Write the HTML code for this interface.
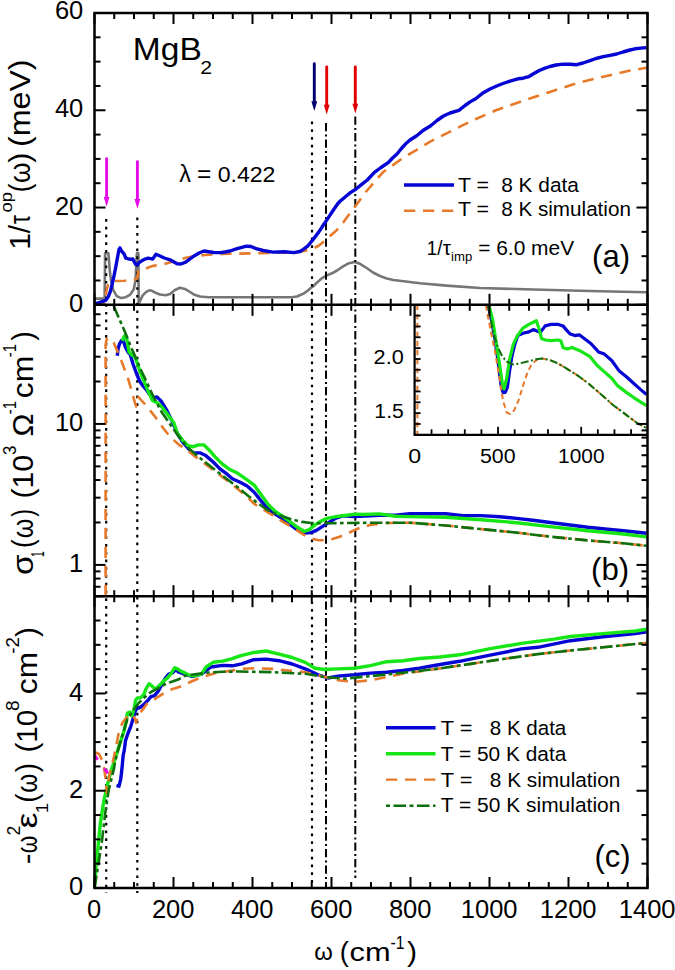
<!DOCTYPE html><html><head><meta charset="utf-8"><style>html,body{margin:0;padding:0;background:#fff;width:675px;height:970px;overflow:hidden}svg{display:block}text{font-family:"Liberation Sans",sans-serif;fill:#000}</style></head><body>
<svg width="675" height="970" viewBox="0 0 675 970">
<rect x="0" y="0" width="675" height="970" fill="#fff"/>
<polyline points="94.5,298.6 104.6,298.6 105.1,253.2 108.4,253.2 109.8,270.6 111.1,281.2 113.3,290.1 116.9,296.3 121.3,298.1 125.8,297.2 130.2,294.6 133.8,289.2 135.6,279.4 136.4,261.7 136.9,253.2 138.4,253.2 138.7,303.4 140.0,300.8 142.7,295.4 146.2,291.9 149.4,290.3 152.0,290.8 156.0,293.0 160.0,294.5 165.9,295.2 170.0,294.0 175.0,290.0 180.0,287.8 185.0,288.9 190.0,292.0 194.5,294.8 200.0,296.5 208.7,297.2 291.6,297.2 297.0,296.5 303.5,293.6 308.0,290.5 310.7,288.0 313.0,286.5 316.0,283.5 321.3,278.7 326.0,275.8 332.0,273.3 337.0,270.5 342.7,266.7 348.0,263.6 354.7,262.1 360.0,263.8 366.7,268.0 373.0,272.5 380.0,276.0 386.0,278.3 393.3,280.0 403.7,281.3 420.0,283.2 446.7,285.6 480.0,288.0 533.3,289.5 580.0,290.8 611.0,291.5 647.0,292.3" fill="none" stroke="#767676" stroke-width="2.6" stroke-linejoin="round" stroke-linecap="butt" />
<line x1="106.20" y1="219.00" x2="106.20" y2="893.00" stroke="#000" stroke-width="2.2" stroke-linecap="butt" stroke-dasharray="2.7,5.04"/>
<line x1="137.30" y1="217.50" x2="137.30" y2="893.00" stroke="#000" stroke-width="2.2" stroke-linecap="butt" stroke-dasharray="2.7,5.04"/>
<line x1="312.00" y1="121.50" x2="312.00" y2="888.00" stroke="#000" stroke-width="2.2" stroke-linecap="butt" stroke-dasharray="2.7,5.04"/>
<line x1="326.00" y1="123.00" x2="326.00" y2="887.00" stroke="#000" stroke-width="2.0" stroke-linecap="butt" stroke-dasharray="8.2,3.2,2,3.1"/>
<line x1="355.30" y1="116.50" x2="355.30" y2="878.00" stroke="#000" stroke-width="2.0" stroke-linecap="butt" stroke-dasharray="8.2,3.2,2,3.1"/>
<polyline points="94.5,304.5 104.0,304.5 105.3,297.5 106.5,290.0 108.0,285.0 110.5,282.0 113.5,281.0 125.0,280.8 132.3,279.6 136.3,279.0 137.6,277.0 138.3,271.0 140.5,270.3 144.4,269.2 152.0,266.1 164.3,263.9 175.0,261.0 185.0,258.0 194.5,256.0 205.0,255.0 220.5,254.0 256.0,253.3 291.6,252.5 304.5,250.9 314.0,248.1 319.0,245.5 324.6,241.0 330.0,236.0 335.9,231.0 343.6,222.1 350.7,212.0 357.2,203.7 364.9,193.0 372.6,184.1 382.9,172.3 402.6,158.2 416.7,149.8 430.7,141.3 447.6,132.9 464.5,124.4 475.3,119.3 496.7,110.0 523.3,100.7 550.0,91.9 576.7,83.3 603.3,76.7 630.0,70.5 646.5,67.8" fill="none" stroke="#e67a2a" stroke-width="2.6" stroke-linejoin="round" stroke-linecap="butt" stroke-dasharray="11.3,7.7" />
<polyline points="94.5,304.0 99.1,302.6 103.6,301.2 106.2,299.9 108.4,296.3 110.2,291.9 112.0,284.8 113.8,276.8 115.6,267.9 116.9,260.8 118.2,253.7 119.1,249.2 120.0,247.9 121.3,250.6 123.1,252.8 124.4,254.6 125.8,258.1 127.6,258.6 129.3,259.0 131.1,259.4 132.9,259.0 134.2,261.7 135.6,264.3 137.3,264.8 139.1,262.6 141.8,260.8 145.3,259.0 148.0,258.1 150.7,258.6 152.7,259.0 156.0,254.3 160.0,256.0 164.3,258.0 170.9,260.2 177.5,263.9 181.0,264.0 185.7,262.2 190.0,258.9 194.5,255.7 199.0,253.0 204.0,251.0 208.7,251.7 214.0,252.5 220.5,252.6 225.0,252.0 230.0,251.0 237.1,248.6 246.6,246.2 251.0,246.5 256.1,248.6 263.2,250.5 272.7,252.1 284.5,251.7 294.0,252.6 300.0,251.5 303.3,249.3 308.0,245.8 312.8,239.9 318.7,232.1 323.4,225.0 328.2,217.9 332.9,210.8 337.7,203.7 340.0,201.3 344.8,197.2 350.7,192.4 355.4,189.5 361.4,184.7 367.3,180.0 374.4,172.3 381.0,167.5 388.5,162.4 392.0,158.5 397.0,154.0 401.0,149.0 405.4,144.1 410.0,140.0 416.7,135.7 423.0,130.5 430.7,125.8 437.0,120.5 443.4,116.0 450.0,113.0 458.9,110.4 465.0,105.5 470.1,101.9 476.0,98.5 483.3,92.7 490.0,89.0 496.7,86.0 503.0,83.5 510.0,81.2 518.0,78.8 523.0,78.2 528.7,76.7 533.0,74.0 539.3,70.5 545.0,68.2 550.0,66.5 556.0,65.0 563.3,64.1 570.0,64.3 576.7,64.7 583.0,63.0 590.0,60.7 596.0,58.5 603.3,56.7 610.0,55.3 616.7,54.0 623.0,52.0 630.0,50.0 635.0,48.8 640.7,48.1 646.5,47.6" fill="none" stroke="#0505d4" stroke-width="3.4" stroke-linejoin="round" stroke-linecap="butt" />
<polyline points="117.3,355.7 118.0,349.0 119.6,343.8 121.5,340.5 123.2,340.3 125.5,347.4 128.0,352.0 130.3,354.5 133.0,364.0 137.4,375.8 140.0,381.8 143.0,386.0 147.1,390.7 150.0,395.0 152.4,397.8 156.9,396.9 161.3,401.3 166.7,410.2 172.0,420.9 177.3,433.3 182.7,442.2 189.8,450.2 193.3,452.9 200.4,452.9 205.8,455.6 212.9,461.8 220.0,468.9 227.1,474.2 232.4,478.7 239.6,482.0 247.1,486.0 254.2,492.2 261.3,501.1 268.4,509.1 275.6,514.4 282.7,518.9 289.8,524.2 296.9,529.6 304.0,533.1 311.1,532.6 316.4,530.4 321.8,526.9 328.9,522.4 336.0,518.0 343.1,515.9 353.8,516.6 360.0,516.3 379.3,515.2 395.6,515.2 410.0,513.8 445.6,513.8 463.3,515.6 481.1,515.6 500.0,516.8 516.7,518.4 535.0,520.5 552.2,522.7 570.0,525.0 587.8,527.3 605.0,529.0 623.3,530.8 635.0,532.0 646.5,533.3" fill="none" stroke="#0505d4" stroke-width="3.4" stroke-linejoin="round" stroke-linecap="butt" />
<polyline points="122.5,341.0 124.0,336.5 125.5,335.5 127.0,340.0 129.1,352.1 132.0,355.0 135.0,356.9 137.5,364.0 139.8,371.1 143.6,380.0 147.1,388.9 152.4,400.4 157.8,403.1 163.1,408.4 168.4,415.6 173.8,422.7 177.3,433.3 182.7,440.4 188.0,445.8 193.3,446.7 198.7,444.9 204.0,444.9 209.3,450.2 214.7,456.4 221.8,463.6 228.9,468.9 237.8,473.3 247.1,479.8 254.2,485.1 261.3,494.9 268.4,504.7 275.6,511.8 282.7,516.2 289.8,521.6 296.9,526.9 304.0,531.3 309.3,529.6 314.7,525.1 320.0,521.6 327.1,518.4 336.0,516.6 346.7,515.3 355.6,514.1 363.0,514.5 379.3,513.9 395.6,516.2 410.0,516.6 445.6,517.3 481.1,519.8 516.7,522.7 552.2,526.9 587.8,530.8 623.3,534.0 646.5,536.9" fill="none" stroke="#16e616" stroke-width="3.4" stroke-linejoin="round" stroke-linecap="butt" />
<polyline points="105.6,596.0 105.6,345.0 106.5,339.5 108.5,337.9 113.7,342.7 120.8,359.2 127.9,378.2 132.0,392.0 135.0,403.0 136.3,406.5 137.5,401.0 138.6,397.2 142.0,401.0 147.1,406.7 154.2,415.6 163.1,428.0 170.2,436.9 179.1,444.9 186.2,449.3 195.1,456.4 205.8,464.4 216.4,472.4 227.1,480.4 237.8,489.0 247.1,497.0 254.2,503.8 261.3,508.2 268.4,512.7 275.6,517.1 282.7,521.6 289.8,526.0 296.9,530.4 304.0,534.9 311.1,538.4 318.2,540.2 325.3,540.2 332.4,539.0 339.6,536.7 346.7,534.0 353.8,530.4 360.0,527.8 370.0,525.0 379.3,523.7 395.6,522.7 410.0,522.7 445.6,525.5 481.1,529.1 516.7,532.6 552.2,536.9 587.8,540.4 623.3,543.3 646.5,545.8" fill="none" stroke="#e67a2a" stroke-width="2.6" stroke-linejoin="round" stroke-linecap="butt" stroke-dasharray="11.3,7.7" />
<polyline points="113.7,306.0 118.0,316.0 121.5,324.0 125.5,333.2 131.0,347.0 137.4,361.6 140.0,368.0 145.3,379.0 149.2,387.7 154.2,398.0 161.3,411.4 170.2,424.4 179.1,436.9 188.0,447.6 196.9,455.5 207.6,464.0 218.2,472.4 228.9,480.5 240.0,489.0 249.0,496.5 257.5,503.0 266.7,509.5 275.6,513.6 284.4,517.1 293.3,519.8 302.2,521.9 311.1,523.0 320.0,523.3 328.9,523.3 346.7,523.0 379.3,522.7 410.0,522.7 445.6,525.5 481.1,529.1 516.7,532.6 552.2,536.9 587.8,540.4 623.3,543.3 646.5,545.8" fill="none" stroke="#0c700c" stroke-width="2.6" stroke-linejoin="round" stroke-linecap="butt" stroke-dasharray="12.5,3.4,3.6,3.4" />
<rect x="414.6" y="304.8" width="232.9" height="130.0" fill="#fff"/>
<line x1="417.40" y1="304.80" x2="417.40" y2="434.80" stroke="#e67a2a" stroke-width="2.0" stroke-linecap="butt" stroke-dasharray="5.5,3.5"/>
<polyline points="488.1,305.2 491.9,322.2 494.8,338.5 497.8,359.3 500.0,377.0 501.5,388.0 503.2,392.6 505.2,392.4 507.4,387.4 509.6,371.1 511.9,356.3 514.8,344.4 517.8,335.6 523.0,333.3 528.9,331.9 533.3,329.6 537.0,331.1 540.7,331.9 545.2,325.9 551.1,324.4 558.5,324.4 563.0,325.9 567.4,331.1 570.4,334.1 574.8,335.6 579.3,334.8 585.2,339.3 591.1,343.7 598.5,351.9 604.4,354.1 611.9,360.7 619.3,371.1 626.7,377.0 634.1,383.7 640.7,389.6 646.5,394.5" fill="none" stroke="#0505d4" stroke-width="3.2" stroke-linejoin="round" stroke-linecap="butt" />
<polyline points="488.9,305.2 492.6,319.3 496.3,343.0 499.3,362.2 502.2,383.0 504.0,388.9 506.7,378.5 509.6,359.3 513.3,344.4 517.0,336.3 523.0,328.1 528.9,324.4 533.3,322.2 536.3,320.7 539.3,329.6 541.5,338.5 545.2,340.0 551.1,340.7 558.5,340.0 561.0,341.0 563.0,347.4 567.4,348.9 571.9,347.4 579.3,350.4 589.6,356.3 597.0,365.2 604.4,371.9 611.9,378.5 617.8,385.9 626.7,392.6 634.1,397.8 640.7,402.2 646.5,405.7" fill="none" stroke="#16e616" stroke-width="3.2" stroke-linejoin="round" stroke-linecap="butt" />
<polyline points="485.9,305.2 490.4,329.6 494.8,350.4 499.3,377.0 503.0,400.7 506.7,412.6 510.4,414.1 514.1,410.4 518.5,400.7 523.0,385.9 527.4,372.6 531.9,363.7 537.8,359.3 542.2,358.5 549.6,360.0 557.0,363.0 565.9,368.1 577.8,375.6 589.6,384.4 601.5,394.8 613.3,405.2 625.2,414.1 637.0,423.0 646.5,428.0" fill="none" stroke="#e67a2a" stroke-width="2.0" stroke-linejoin="round" stroke-linecap="butt" stroke-dasharray="5.5,3.5" />
<polyline points="488.1,305.2 493.3,332.6 497.8,347.4 502.2,356.3 506.7,361.5 512.6,364.4 518.5,363.7 527.4,361.5 536.3,359.3 542.2,358.5 549.6,360.0 557.0,363.0 565.9,368.1 577.8,375.6 589.6,384.4 601.5,394.8 613.3,405.2 625.2,414.1 637.0,423.0 646.5,428.0" fill="none" stroke="#0c700c" stroke-width="2.0" stroke-linejoin="round" stroke-linecap="butt" stroke-dasharray="8,2.5,2,2.5" />
<polyline points="116.5,785.5 119.0,786.2 120.7,779.4 121.8,770.0 122.4,764.0 123.2,755.0 124.3,750.1 125.5,740.6 127.9,733.5 130.8,726.4 133.2,718.1 135.0,712.1 136.7,708.6 140.3,707.4 143.9,704.4 147.4,700.9 151.0,696.7 154.5,695.6 158.1,691.4 161.6,684.9 165.2,678.4 168.7,674.2 172.3,673.0 175.9,669.5 178.2,671.9 184.8,674.1 191.9,676.5 201.4,674.1 210.9,667.0 222.7,665.4 232.2,665.8 241.7,663.9 253.0,659.8 266.1,659.1 279.1,660.7 292.2,664.0 305.2,668.9 318.2,674.8 328.0,678.0 337.8,676.1 354.1,674.8 370.4,673.1 386.7,672.2 403.0,670.5 419.3,668.2 440.0,664.5 459.6,661.3 488.9,655.4 521.5,648.9 537.8,647.3 570.4,640.7 603.0,636.8 635.6,633.6 646.5,631.9" fill="none" stroke="#0505d4" stroke-width="3.4" stroke-linejoin="round" stroke-linecap="butt" />
<polyline points="94.5,888.0 96.0,866.0 97.8,849.1 100.3,823.6 103.7,801.5 107.1,786.2 110.0,775.0 112.2,767.4 114.8,760.0 117.8,750.1 121.3,739.4 124.3,729.9 126.1,721.6 127.3,713.3 129.6,712.1 132.0,715.7 133.8,709.8 135.6,700.3 137.3,697.9 140.3,697.9 143.9,694.4 146.2,688.4 149.2,683.7 152.1,686.1 155.1,689.0 158.1,686.7 162.8,681.9 167.6,677.8 171.1,673.6 174.7,667.7 177.6,668.9 180.0,670.7 184.8,672.9 189.5,675.3 194.3,675.8 201.4,674.1 206.1,667.0 213.2,662.3 222.7,661.1 232.2,658.7 240.0,655.9 253.0,652.6 266.1,651.0 279.1,654.2 292.2,657.5 305.2,662.4 315.0,668.2 324.7,669.5 337.8,668.9 354.1,668.2 370.4,665.6 386.7,661.7 403.0,660.7 419.3,658.5 440.0,657.0 459.6,654.8 488.9,648.9 521.5,643.4 554.1,639.1 570.4,636.5 603.0,633.6 635.6,631.0 646.5,629.3" fill="none" stroke="#16e616" stroke-width="3.4" stroke-linejoin="round" stroke-linecap="butt" />
<polyline points="94.5,752.0 99.0,754.0 102.0,760.0 104.5,770.0 106.0,783.0 106.8,793.0 107.5,785.0 110.0,773.0 113.9,757.0 116.5,745.0 119.0,731.0 122.5,722.8 126.1,718.1 129.6,714.5 133.0,715.0 135.0,719.0 136.1,722.8 137.5,716.0 139.1,713.3 142.7,709.8 146.9,703.7 152.1,701.5 156.4,697.8 159.3,696.1 168.2,690.7 171.1,689.6 180.0,686.7 191.9,681.2 203.7,676.5 215.6,672.9 232.2,670.6 240.0,668.9 256.3,668.2 272.6,668.9 288.9,670.5 305.2,672.2 321.5,676.1 337.8,680.3 354.1,681.9 370.4,680.3 386.7,677.0 403.0,673.8 419.3,671.5 440.0,668.4 472.6,663.6 505.2,658.7 537.8,654.1 570.4,650.5 603.0,647.3 635.6,644.0 646.5,643.0" fill="none" stroke="#e67a2a" stroke-width="2.6" stroke-linejoin="round" stroke-linecap="butt" stroke-dasharray="11.3,7.7" />
<polyline points="94.5,888.0 98.6,862.8 102.0,840.6 105.4,811.7 108.8,789.6 113.9,769.1 115.4,760.0 120.1,743.0 123.7,731.1 127.3,719.3 132.0,712.1 137.9,703.9 143.9,697.9 151.0,692.0 158.1,688.4 164.0,684.9 171.1,681.9 178.2,679.6 184.8,675.8 196.6,674.1 208.5,672.5 222.7,671.8 240.0,671.5 272.6,672.2 305.2,673.8 324.7,677.0 344.3,678.7 370.4,676.1 403.0,672.8 440.0,668.4 472.6,663.6 505.2,658.7 537.8,654.1 570.4,650.5 603.0,647.3 635.6,644.0 646.5,643.0" fill="none" stroke="#0c700c" stroke-width="2.6" stroke-linejoin="round" stroke-linecap="butt" stroke-dasharray="12.5,3.4,3.6,3.4" />
<polyline points="94.6,755.5 96.2,757.5 97.6,759.8" fill="none" stroke="#e60ae6" stroke-width="3.0" stroke-linejoin="round" stroke-linecap="butt" />
<polyline points="104.0,769.0 106.0,770.5 107.8,773.5" fill="none" stroke="#e60ae6" stroke-width="3.0" stroke-linejoin="round" stroke-linecap="butt" />
<line x1="106.60" y1="158.75" x2="106.60" y2="197.90" stroke="#e60ae6" stroke-width="2.9" stroke-linecap="round"/>
<polygon points="103.7,196.9 109.5,196.9 106.6,206.4" fill="#e60ae6"/>
<line x1="137.40" y1="161.65" x2="137.40" y2="199.90" stroke="#e60ae6" stroke-width="2.9" stroke-linecap="round"/>
<polygon points="134.5,198.9 140.3,198.9 137.4,208.7" fill="#e60ae6"/>
<line x1="314.30" y1="63.75" x2="314.30" y2="102.20" stroke="#00006e" stroke-width="2.9" stroke-linecap="round"/>
<polygon points="311.4,101.2 317.2,101.2 314.3,111.0" fill="#00006e"/>
<line x1="326.70" y1="66.85" x2="326.70" y2="105.80" stroke="#e00000" stroke-width="2.9" stroke-linecap="round"/>
<polygon points="323.8,104.8 329.6,104.8 326.7,114.6" fill="#e00000"/>
<line x1="355.30" y1="66.85" x2="355.30" y2="104.80" stroke="#e00000" stroke-width="2.9" stroke-linecap="round"/>
<polygon points="352.4,103.8 358.2,103.8 355.3,113.6" fill="#e00000"/>
<line x1="94.50" y1="13.00" x2="94.50" y2="24.00" stroke="#000" stroke-width="2.0" stroke-linecap="butt"/>
<line x1="114.25" y1="13.00" x2="114.25" y2="19.00" stroke="#000" stroke-width="2.0" stroke-linecap="butt"/>
<line x1="134.00" y1="13.00" x2="134.00" y2="19.00" stroke="#000" stroke-width="2.0" stroke-linecap="butt"/>
<line x1="153.75" y1="13.00" x2="153.75" y2="19.00" stroke="#000" stroke-width="2.0" stroke-linecap="butt"/>
<line x1="173.50" y1="13.00" x2="173.50" y2="24.00" stroke="#000" stroke-width="2.0" stroke-linecap="butt"/>
<line x1="193.25" y1="13.00" x2="193.25" y2="19.00" stroke="#000" stroke-width="2.0" stroke-linecap="butt"/>
<line x1="213.00" y1="13.00" x2="213.00" y2="19.00" stroke="#000" stroke-width="2.0" stroke-linecap="butt"/>
<line x1="232.75" y1="13.00" x2="232.75" y2="19.00" stroke="#000" stroke-width="2.0" stroke-linecap="butt"/>
<line x1="252.50" y1="13.00" x2="252.50" y2="24.00" stroke="#000" stroke-width="2.0" stroke-linecap="butt"/>
<line x1="272.25" y1="13.00" x2="272.25" y2="19.00" stroke="#000" stroke-width="2.0" stroke-linecap="butt"/>
<line x1="292.00" y1="13.00" x2="292.00" y2="19.00" stroke="#000" stroke-width="2.0" stroke-linecap="butt"/>
<line x1="311.75" y1="13.00" x2="311.75" y2="19.00" stroke="#000" stroke-width="2.0" stroke-linecap="butt"/>
<line x1="331.50" y1="13.00" x2="331.50" y2="24.00" stroke="#000" stroke-width="2.0" stroke-linecap="butt"/>
<line x1="351.25" y1="13.00" x2="351.25" y2="19.00" stroke="#000" stroke-width="2.0" stroke-linecap="butt"/>
<line x1="371.00" y1="13.00" x2="371.00" y2="19.00" stroke="#000" stroke-width="2.0" stroke-linecap="butt"/>
<line x1="390.75" y1="13.00" x2="390.75" y2="19.00" stroke="#000" stroke-width="2.0" stroke-linecap="butt"/>
<line x1="410.50" y1="13.00" x2="410.50" y2="24.00" stroke="#000" stroke-width="2.0" stroke-linecap="butt"/>
<line x1="430.25" y1="13.00" x2="430.25" y2="19.00" stroke="#000" stroke-width="2.0" stroke-linecap="butt"/>
<line x1="450.00" y1="13.00" x2="450.00" y2="19.00" stroke="#000" stroke-width="2.0" stroke-linecap="butt"/>
<line x1="469.75" y1="13.00" x2="469.75" y2="19.00" stroke="#000" stroke-width="2.0" stroke-linecap="butt"/>
<line x1="489.50" y1="13.00" x2="489.50" y2="24.00" stroke="#000" stroke-width="2.0" stroke-linecap="butt"/>
<line x1="509.25" y1="13.00" x2="509.25" y2="19.00" stroke="#000" stroke-width="2.0" stroke-linecap="butt"/>
<line x1="529.00" y1="13.00" x2="529.00" y2="19.00" stroke="#000" stroke-width="2.0" stroke-linecap="butt"/>
<line x1="548.75" y1="13.00" x2="548.75" y2="19.00" stroke="#000" stroke-width="2.0" stroke-linecap="butt"/>
<line x1="568.50" y1="13.00" x2="568.50" y2="24.00" stroke="#000" stroke-width="2.0" stroke-linecap="butt"/>
<line x1="588.25" y1="13.00" x2="588.25" y2="19.00" stroke="#000" stroke-width="2.0" stroke-linecap="butt"/>
<line x1="608.00" y1="13.00" x2="608.00" y2="19.00" stroke="#000" stroke-width="2.0" stroke-linecap="butt"/>
<line x1="627.75" y1="13.00" x2="627.75" y2="19.00" stroke="#000" stroke-width="2.0" stroke-linecap="butt"/>
<line x1="647.50" y1="13.00" x2="647.50" y2="24.00" stroke="#000" stroke-width="2.0" stroke-linecap="butt"/>
<line x1="94.50" y1="304.80" x2="94.50" y2="293.80" stroke="#000" stroke-width="2.0" stroke-linecap="butt"/>
<line x1="114.25" y1="304.80" x2="114.25" y2="298.80" stroke="#000" stroke-width="2.0" stroke-linecap="butt"/>
<line x1="134.00" y1="304.80" x2="134.00" y2="298.80" stroke="#000" stroke-width="2.0" stroke-linecap="butt"/>
<line x1="153.75" y1="304.80" x2="153.75" y2="298.80" stroke="#000" stroke-width="2.0" stroke-linecap="butt"/>
<line x1="173.50" y1="304.80" x2="173.50" y2="293.80" stroke="#000" stroke-width="2.0" stroke-linecap="butt"/>
<line x1="193.25" y1="304.80" x2="193.25" y2="298.80" stroke="#000" stroke-width="2.0" stroke-linecap="butt"/>
<line x1="213.00" y1="304.80" x2="213.00" y2="298.80" stroke="#000" stroke-width="2.0" stroke-linecap="butt"/>
<line x1="232.75" y1="304.80" x2="232.75" y2="298.80" stroke="#000" stroke-width="2.0" stroke-linecap="butt"/>
<line x1="252.50" y1="304.80" x2="252.50" y2="293.80" stroke="#000" stroke-width="2.0" stroke-linecap="butt"/>
<line x1="272.25" y1="304.80" x2="272.25" y2="298.80" stroke="#000" stroke-width="2.0" stroke-linecap="butt"/>
<line x1="292.00" y1="304.80" x2="292.00" y2="298.80" stroke="#000" stroke-width="2.0" stroke-linecap="butt"/>
<line x1="311.75" y1="304.80" x2="311.75" y2="298.80" stroke="#000" stroke-width="2.0" stroke-linecap="butt"/>
<line x1="331.50" y1="304.80" x2="331.50" y2="293.80" stroke="#000" stroke-width="2.0" stroke-linecap="butt"/>
<line x1="351.25" y1="304.80" x2="351.25" y2="298.80" stroke="#000" stroke-width="2.0" stroke-linecap="butt"/>
<line x1="371.00" y1="304.80" x2="371.00" y2="298.80" stroke="#000" stroke-width="2.0" stroke-linecap="butt"/>
<line x1="390.75" y1="304.80" x2="390.75" y2="298.80" stroke="#000" stroke-width="2.0" stroke-linecap="butt"/>
<line x1="410.50" y1="304.80" x2="410.50" y2="293.80" stroke="#000" stroke-width="2.0" stroke-linecap="butt"/>
<line x1="430.25" y1="304.80" x2="430.25" y2="298.80" stroke="#000" stroke-width="2.0" stroke-linecap="butt"/>
<line x1="450.00" y1="304.80" x2="450.00" y2="298.80" stroke="#000" stroke-width="2.0" stroke-linecap="butt"/>
<line x1="469.75" y1="304.80" x2="469.75" y2="298.80" stroke="#000" stroke-width="2.0" stroke-linecap="butt"/>
<line x1="489.50" y1="304.80" x2="489.50" y2="293.80" stroke="#000" stroke-width="2.0" stroke-linecap="butt"/>
<line x1="509.25" y1="304.80" x2="509.25" y2="298.80" stroke="#000" stroke-width="2.0" stroke-linecap="butt"/>
<line x1="529.00" y1="304.80" x2="529.00" y2="298.80" stroke="#000" stroke-width="2.0" stroke-linecap="butt"/>
<line x1="548.75" y1="304.80" x2="548.75" y2="298.80" stroke="#000" stroke-width="2.0" stroke-linecap="butt"/>
<line x1="568.50" y1="304.80" x2="568.50" y2="293.80" stroke="#000" stroke-width="2.0" stroke-linecap="butt"/>
<line x1="588.25" y1="304.80" x2="588.25" y2="298.80" stroke="#000" stroke-width="2.0" stroke-linecap="butt"/>
<line x1="608.00" y1="304.80" x2="608.00" y2="298.80" stroke="#000" stroke-width="2.0" stroke-linecap="butt"/>
<line x1="627.75" y1="304.80" x2="627.75" y2="298.80" stroke="#000" stroke-width="2.0" stroke-linecap="butt"/>
<line x1="647.50" y1="304.80" x2="647.50" y2="293.80" stroke="#000" stroke-width="2.0" stroke-linecap="butt"/>
<line x1="94.50" y1="304.80" x2="94.50" y2="315.80" stroke="#000" stroke-width="2.0" stroke-linecap="butt"/>
<line x1="114.25" y1="304.80" x2="114.25" y2="310.80" stroke="#000" stroke-width="2.0" stroke-linecap="butt"/>
<line x1="134.00" y1="304.80" x2="134.00" y2="310.80" stroke="#000" stroke-width="2.0" stroke-linecap="butt"/>
<line x1="153.75" y1="304.80" x2="153.75" y2="310.80" stroke="#000" stroke-width="2.0" stroke-linecap="butt"/>
<line x1="173.50" y1="304.80" x2="173.50" y2="315.80" stroke="#000" stroke-width="2.0" stroke-linecap="butt"/>
<line x1="193.25" y1="304.80" x2="193.25" y2="310.80" stroke="#000" stroke-width="2.0" stroke-linecap="butt"/>
<line x1="213.00" y1="304.80" x2="213.00" y2="310.80" stroke="#000" stroke-width="2.0" stroke-linecap="butt"/>
<line x1="232.75" y1="304.80" x2="232.75" y2="310.80" stroke="#000" stroke-width="2.0" stroke-linecap="butt"/>
<line x1="252.50" y1="304.80" x2="252.50" y2="315.80" stroke="#000" stroke-width="2.0" stroke-linecap="butt"/>
<line x1="272.25" y1="304.80" x2="272.25" y2="310.80" stroke="#000" stroke-width="2.0" stroke-linecap="butt"/>
<line x1="292.00" y1="304.80" x2="292.00" y2="310.80" stroke="#000" stroke-width="2.0" stroke-linecap="butt"/>
<line x1="311.75" y1="304.80" x2="311.75" y2="310.80" stroke="#000" stroke-width="2.0" stroke-linecap="butt"/>
<line x1="331.50" y1="304.80" x2="331.50" y2="315.80" stroke="#000" stroke-width="2.0" stroke-linecap="butt"/>
<line x1="351.25" y1="304.80" x2="351.25" y2="310.80" stroke="#000" stroke-width="2.0" stroke-linecap="butt"/>
<line x1="371.00" y1="304.80" x2="371.00" y2="310.80" stroke="#000" stroke-width="2.0" stroke-linecap="butt"/>
<line x1="390.75" y1="304.80" x2="390.75" y2="310.80" stroke="#000" stroke-width="2.0" stroke-linecap="butt"/>
<line x1="410.50" y1="304.80" x2="410.50" y2="315.80" stroke="#000" stroke-width="2.0" stroke-linecap="butt"/>
<line x1="430.25" y1="304.80" x2="430.25" y2="310.80" stroke="#000" stroke-width="2.0" stroke-linecap="butt"/>
<line x1="450.00" y1="304.80" x2="450.00" y2="310.80" stroke="#000" stroke-width="2.0" stroke-linecap="butt"/>
<line x1="469.75" y1="304.80" x2="469.75" y2="310.80" stroke="#000" stroke-width="2.0" stroke-linecap="butt"/>
<line x1="489.50" y1="304.80" x2="489.50" y2="315.80" stroke="#000" stroke-width="2.0" stroke-linecap="butt"/>
<line x1="509.25" y1="304.80" x2="509.25" y2="310.80" stroke="#000" stroke-width="2.0" stroke-linecap="butt"/>
<line x1="529.00" y1="304.80" x2="529.00" y2="310.80" stroke="#000" stroke-width="2.0" stroke-linecap="butt"/>
<line x1="548.75" y1="304.80" x2="548.75" y2="310.80" stroke="#000" stroke-width="2.0" stroke-linecap="butt"/>
<line x1="568.50" y1="304.80" x2="568.50" y2="315.80" stroke="#000" stroke-width="2.0" stroke-linecap="butt"/>
<line x1="588.25" y1="304.80" x2="588.25" y2="310.80" stroke="#000" stroke-width="2.0" stroke-linecap="butt"/>
<line x1="608.00" y1="304.80" x2="608.00" y2="310.80" stroke="#000" stroke-width="2.0" stroke-linecap="butt"/>
<line x1="627.75" y1="304.80" x2="627.75" y2="310.80" stroke="#000" stroke-width="2.0" stroke-linecap="butt"/>
<line x1="647.50" y1="304.80" x2="647.50" y2="315.80" stroke="#000" stroke-width="2.0" stroke-linecap="butt"/>
<line x1="94.50" y1="596.20" x2="94.50" y2="585.20" stroke="#000" stroke-width="2.0" stroke-linecap="butt"/>
<line x1="114.25" y1="596.20" x2="114.25" y2="590.20" stroke="#000" stroke-width="2.0" stroke-linecap="butt"/>
<line x1="134.00" y1="596.20" x2="134.00" y2="590.20" stroke="#000" stroke-width="2.0" stroke-linecap="butt"/>
<line x1="153.75" y1="596.20" x2="153.75" y2="590.20" stroke="#000" stroke-width="2.0" stroke-linecap="butt"/>
<line x1="173.50" y1="596.20" x2="173.50" y2="585.20" stroke="#000" stroke-width="2.0" stroke-linecap="butt"/>
<line x1="193.25" y1="596.20" x2="193.25" y2="590.20" stroke="#000" stroke-width="2.0" stroke-linecap="butt"/>
<line x1="213.00" y1="596.20" x2="213.00" y2="590.20" stroke="#000" stroke-width="2.0" stroke-linecap="butt"/>
<line x1="232.75" y1="596.20" x2="232.75" y2="590.20" stroke="#000" stroke-width="2.0" stroke-linecap="butt"/>
<line x1="252.50" y1="596.20" x2="252.50" y2="585.20" stroke="#000" stroke-width="2.0" stroke-linecap="butt"/>
<line x1="272.25" y1="596.20" x2="272.25" y2="590.20" stroke="#000" stroke-width="2.0" stroke-linecap="butt"/>
<line x1="292.00" y1="596.20" x2="292.00" y2="590.20" stroke="#000" stroke-width="2.0" stroke-linecap="butt"/>
<line x1="311.75" y1="596.20" x2="311.75" y2="590.20" stroke="#000" stroke-width="2.0" stroke-linecap="butt"/>
<line x1="331.50" y1="596.20" x2="331.50" y2="585.20" stroke="#000" stroke-width="2.0" stroke-linecap="butt"/>
<line x1="351.25" y1="596.20" x2="351.25" y2="590.20" stroke="#000" stroke-width="2.0" stroke-linecap="butt"/>
<line x1="371.00" y1="596.20" x2="371.00" y2="590.20" stroke="#000" stroke-width="2.0" stroke-linecap="butt"/>
<line x1="390.75" y1="596.20" x2="390.75" y2="590.20" stroke="#000" stroke-width="2.0" stroke-linecap="butt"/>
<line x1="410.50" y1="596.20" x2="410.50" y2="585.20" stroke="#000" stroke-width="2.0" stroke-linecap="butt"/>
<line x1="430.25" y1="596.20" x2="430.25" y2="590.20" stroke="#000" stroke-width="2.0" stroke-linecap="butt"/>
<line x1="450.00" y1="596.20" x2="450.00" y2="590.20" stroke="#000" stroke-width="2.0" stroke-linecap="butt"/>
<line x1="469.75" y1="596.20" x2="469.75" y2="590.20" stroke="#000" stroke-width="2.0" stroke-linecap="butt"/>
<line x1="489.50" y1="596.20" x2="489.50" y2="585.20" stroke="#000" stroke-width="2.0" stroke-linecap="butt"/>
<line x1="509.25" y1="596.20" x2="509.25" y2="590.20" stroke="#000" stroke-width="2.0" stroke-linecap="butt"/>
<line x1="529.00" y1="596.20" x2="529.00" y2="590.20" stroke="#000" stroke-width="2.0" stroke-linecap="butt"/>
<line x1="548.75" y1="596.20" x2="548.75" y2="590.20" stroke="#000" stroke-width="2.0" stroke-linecap="butt"/>
<line x1="568.50" y1="596.20" x2="568.50" y2="585.20" stroke="#000" stroke-width="2.0" stroke-linecap="butt"/>
<line x1="588.25" y1="596.20" x2="588.25" y2="590.20" stroke="#000" stroke-width="2.0" stroke-linecap="butt"/>
<line x1="608.00" y1="596.20" x2="608.00" y2="590.20" stroke="#000" stroke-width="2.0" stroke-linecap="butt"/>
<line x1="627.75" y1="596.20" x2="627.75" y2="590.20" stroke="#000" stroke-width="2.0" stroke-linecap="butt"/>
<line x1="647.50" y1="596.20" x2="647.50" y2="585.20" stroke="#000" stroke-width="2.0" stroke-linecap="butt"/>
<line x1="94.50" y1="596.20" x2="94.50" y2="607.20" stroke="#000" stroke-width="2.0" stroke-linecap="butt"/>
<line x1="114.25" y1="596.20" x2="114.25" y2="602.20" stroke="#000" stroke-width="2.0" stroke-linecap="butt"/>
<line x1="134.00" y1="596.20" x2="134.00" y2="602.20" stroke="#000" stroke-width="2.0" stroke-linecap="butt"/>
<line x1="153.75" y1="596.20" x2="153.75" y2="602.20" stroke="#000" stroke-width="2.0" stroke-linecap="butt"/>
<line x1="173.50" y1="596.20" x2="173.50" y2="607.20" stroke="#000" stroke-width="2.0" stroke-linecap="butt"/>
<line x1="193.25" y1="596.20" x2="193.25" y2="602.20" stroke="#000" stroke-width="2.0" stroke-linecap="butt"/>
<line x1="213.00" y1="596.20" x2="213.00" y2="602.20" stroke="#000" stroke-width="2.0" stroke-linecap="butt"/>
<line x1="232.75" y1="596.20" x2="232.75" y2="602.20" stroke="#000" stroke-width="2.0" stroke-linecap="butt"/>
<line x1="252.50" y1="596.20" x2="252.50" y2="607.20" stroke="#000" stroke-width="2.0" stroke-linecap="butt"/>
<line x1="272.25" y1="596.20" x2="272.25" y2="602.20" stroke="#000" stroke-width="2.0" stroke-linecap="butt"/>
<line x1="292.00" y1="596.20" x2="292.00" y2="602.20" stroke="#000" stroke-width="2.0" stroke-linecap="butt"/>
<line x1="311.75" y1="596.20" x2="311.75" y2="602.20" stroke="#000" stroke-width="2.0" stroke-linecap="butt"/>
<line x1="331.50" y1="596.20" x2="331.50" y2="607.20" stroke="#000" stroke-width="2.0" stroke-linecap="butt"/>
<line x1="351.25" y1="596.20" x2="351.25" y2="602.20" stroke="#000" stroke-width="2.0" stroke-linecap="butt"/>
<line x1="371.00" y1="596.20" x2="371.00" y2="602.20" stroke="#000" stroke-width="2.0" stroke-linecap="butt"/>
<line x1="390.75" y1="596.20" x2="390.75" y2="602.20" stroke="#000" stroke-width="2.0" stroke-linecap="butt"/>
<line x1="410.50" y1="596.20" x2="410.50" y2="607.20" stroke="#000" stroke-width="2.0" stroke-linecap="butt"/>
<line x1="430.25" y1="596.20" x2="430.25" y2="602.20" stroke="#000" stroke-width="2.0" stroke-linecap="butt"/>
<line x1="450.00" y1="596.20" x2="450.00" y2="602.20" stroke="#000" stroke-width="2.0" stroke-linecap="butt"/>
<line x1="469.75" y1="596.20" x2="469.75" y2="602.20" stroke="#000" stroke-width="2.0" stroke-linecap="butt"/>
<line x1="489.50" y1="596.20" x2="489.50" y2="607.20" stroke="#000" stroke-width="2.0" stroke-linecap="butt"/>
<line x1="509.25" y1="596.20" x2="509.25" y2="602.20" stroke="#000" stroke-width="2.0" stroke-linecap="butt"/>
<line x1="529.00" y1="596.20" x2="529.00" y2="602.20" stroke="#000" stroke-width="2.0" stroke-linecap="butt"/>
<line x1="548.75" y1="596.20" x2="548.75" y2="602.20" stroke="#000" stroke-width="2.0" stroke-linecap="butt"/>
<line x1="568.50" y1="596.20" x2="568.50" y2="607.20" stroke="#000" stroke-width="2.0" stroke-linecap="butt"/>
<line x1="588.25" y1="596.20" x2="588.25" y2="602.20" stroke="#000" stroke-width="2.0" stroke-linecap="butt"/>
<line x1="608.00" y1="596.20" x2="608.00" y2="602.20" stroke="#000" stroke-width="2.0" stroke-linecap="butt"/>
<line x1="627.75" y1="596.20" x2="627.75" y2="602.20" stroke="#000" stroke-width="2.0" stroke-linecap="butt"/>
<line x1="647.50" y1="596.20" x2="647.50" y2="607.20" stroke="#000" stroke-width="2.0" stroke-linecap="butt"/>
<line x1="94.50" y1="888.00" x2="94.50" y2="877.00" stroke="#000" stroke-width="2.0" stroke-linecap="butt"/>
<line x1="114.25" y1="888.00" x2="114.25" y2="882.00" stroke="#000" stroke-width="2.0" stroke-linecap="butt"/>
<line x1="134.00" y1="888.00" x2="134.00" y2="882.00" stroke="#000" stroke-width="2.0" stroke-linecap="butt"/>
<line x1="153.75" y1="888.00" x2="153.75" y2="882.00" stroke="#000" stroke-width="2.0" stroke-linecap="butt"/>
<line x1="173.50" y1="888.00" x2="173.50" y2="877.00" stroke="#000" stroke-width="2.0" stroke-linecap="butt"/>
<line x1="193.25" y1="888.00" x2="193.25" y2="882.00" stroke="#000" stroke-width="2.0" stroke-linecap="butt"/>
<line x1="213.00" y1="888.00" x2="213.00" y2="882.00" stroke="#000" stroke-width="2.0" stroke-linecap="butt"/>
<line x1="232.75" y1="888.00" x2="232.75" y2="882.00" stroke="#000" stroke-width="2.0" stroke-linecap="butt"/>
<line x1="252.50" y1="888.00" x2="252.50" y2="877.00" stroke="#000" stroke-width="2.0" stroke-linecap="butt"/>
<line x1="272.25" y1="888.00" x2="272.25" y2="882.00" stroke="#000" stroke-width="2.0" stroke-linecap="butt"/>
<line x1="292.00" y1="888.00" x2="292.00" y2="882.00" stroke="#000" stroke-width="2.0" stroke-linecap="butt"/>
<line x1="311.75" y1="888.00" x2="311.75" y2="882.00" stroke="#000" stroke-width="2.0" stroke-linecap="butt"/>
<line x1="331.50" y1="888.00" x2="331.50" y2="877.00" stroke="#000" stroke-width="2.0" stroke-linecap="butt"/>
<line x1="351.25" y1="888.00" x2="351.25" y2="882.00" stroke="#000" stroke-width="2.0" stroke-linecap="butt"/>
<line x1="371.00" y1="888.00" x2="371.00" y2="882.00" stroke="#000" stroke-width="2.0" stroke-linecap="butt"/>
<line x1="390.75" y1="888.00" x2="390.75" y2="882.00" stroke="#000" stroke-width="2.0" stroke-linecap="butt"/>
<line x1="410.50" y1="888.00" x2="410.50" y2="877.00" stroke="#000" stroke-width="2.0" stroke-linecap="butt"/>
<line x1="430.25" y1="888.00" x2="430.25" y2="882.00" stroke="#000" stroke-width="2.0" stroke-linecap="butt"/>
<line x1="450.00" y1="888.00" x2="450.00" y2="882.00" stroke="#000" stroke-width="2.0" stroke-linecap="butt"/>
<line x1="469.75" y1="888.00" x2="469.75" y2="882.00" stroke="#000" stroke-width="2.0" stroke-linecap="butt"/>
<line x1="489.50" y1="888.00" x2="489.50" y2="877.00" stroke="#000" stroke-width="2.0" stroke-linecap="butt"/>
<line x1="509.25" y1="888.00" x2="509.25" y2="882.00" stroke="#000" stroke-width="2.0" stroke-linecap="butt"/>
<line x1="529.00" y1="888.00" x2="529.00" y2="882.00" stroke="#000" stroke-width="2.0" stroke-linecap="butt"/>
<line x1="548.75" y1="888.00" x2="548.75" y2="882.00" stroke="#000" stroke-width="2.0" stroke-linecap="butt"/>
<line x1="568.50" y1="888.00" x2="568.50" y2="877.00" stroke="#000" stroke-width="2.0" stroke-linecap="butt"/>
<line x1="588.25" y1="888.00" x2="588.25" y2="882.00" stroke="#000" stroke-width="2.0" stroke-linecap="butt"/>
<line x1="608.00" y1="888.00" x2="608.00" y2="882.00" stroke="#000" stroke-width="2.0" stroke-linecap="butt"/>
<line x1="627.75" y1="888.00" x2="627.75" y2="882.00" stroke="#000" stroke-width="2.0" stroke-linecap="butt"/>
<line x1="647.50" y1="888.00" x2="647.50" y2="877.00" stroke="#000" stroke-width="2.0" stroke-linecap="butt"/>
<line x1="94.50" y1="304.80" x2="105.50" y2="304.80" stroke="#000" stroke-width="2.0" stroke-linecap="butt"/>
<line x1="647.50" y1="304.80" x2="636.50" y2="304.80" stroke="#000" stroke-width="2.0" stroke-linecap="butt"/>
<line x1="94.50" y1="207.53" x2="105.50" y2="207.53" stroke="#000" stroke-width="2.0" stroke-linecap="butt"/>
<line x1="647.50" y1="207.53" x2="636.50" y2="207.53" stroke="#000" stroke-width="2.0" stroke-linecap="butt"/>
<line x1="94.50" y1="110.27" x2="105.50" y2="110.27" stroke="#000" stroke-width="2.0" stroke-linecap="butt"/>
<line x1="647.50" y1="110.27" x2="636.50" y2="110.27" stroke="#000" stroke-width="2.0" stroke-linecap="butt"/>
<line x1="94.50" y1="13.00" x2="105.50" y2="13.00" stroke="#000" stroke-width="2.0" stroke-linecap="butt"/>
<line x1="647.50" y1="13.00" x2="636.50" y2="13.00" stroke="#000" stroke-width="2.0" stroke-linecap="butt"/>
<line x1="94.50" y1="280.48" x2="100.50" y2="280.48" stroke="#000" stroke-width="2.0" stroke-linecap="butt"/>
<line x1="647.50" y1="280.48" x2="641.50" y2="280.48" stroke="#000" stroke-width="2.0" stroke-linecap="butt"/>
<line x1="94.50" y1="256.17" x2="100.50" y2="256.17" stroke="#000" stroke-width="2.0" stroke-linecap="butt"/>
<line x1="647.50" y1="256.17" x2="641.50" y2="256.17" stroke="#000" stroke-width="2.0" stroke-linecap="butt"/>
<line x1="94.50" y1="231.85" x2="100.50" y2="231.85" stroke="#000" stroke-width="2.0" stroke-linecap="butt"/>
<line x1="647.50" y1="231.85" x2="641.50" y2="231.85" stroke="#000" stroke-width="2.0" stroke-linecap="butt"/>
<line x1="94.50" y1="183.22" x2="100.50" y2="183.22" stroke="#000" stroke-width="2.0" stroke-linecap="butt"/>
<line x1="647.50" y1="183.22" x2="641.50" y2="183.22" stroke="#000" stroke-width="2.0" stroke-linecap="butt"/>
<line x1="94.50" y1="158.90" x2="100.50" y2="158.90" stroke="#000" stroke-width="2.0" stroke-linecap="butt"/>
<line x1="647.50" y1="158.90" x2="641.50" y2="158.90" stroke="#000" stroke-width="2.0" stroke-linecap="butt"/>
<line x1="94.50" y1="134.58" x2="100.50" y2="134.58" stroke="#000" stroke-width="2.0" stroke-linecap="butt"/>
<line x1="647.50" y1="134.58" x2="641.50" y2="134.58" stroke="#000" stroke-width="2.0" stroke-linecap="butt"/>
<line x1="94.50" y1="85.95" x2="100.50" y2="85.95" stroke="#000" stroke-width="2.0" stroke-linecap="butt"/>
<line x1="647.50" y1="85.95" x2="641.50" y2="85.95" stroke="#000" stroke-width="2.0" stroke-linecap="butt"/>
<line x1="94.50" y1="61.63" x2="100.50" y2="61.63" stroke="#000" stroke-width="2.0" stroke-linecap="butt"/>
<line x1="647.50" y1="61.63" x2="641.50" y2="61.63" stroke="#000" stroke-width="2.0" stroke-linecap="butt"/>
<line x1="94.50" y1="37.32" x2="100.50" y2="37.32" stroke="#000" stroke-width="2.0" stroke-linecap="butt"/>
<line x1="647.50" y1="37.32" x2="641.50" y2="37.32" stroke="#000" stroke-width="2.0" stroke-linecap="butt"/>
<line x1="94.50" y1="564.92" x2="105.50" y2="564.92" stroke="#000" stroke-width="2.0" stroke-linecap="butt"/>
<line x1="647.50" y1="564.92" x2="636.50" y2="564.92" stroke="#000" stroke-width="2.0" stroke-linecap="butt"/>
<line x1="94.50" y1="423.94" x2="105.50" y2="423.94" stroke="#000" stroke-width="2.0" stroke-linecap="butt"/>
<line x1="647.50" y1="423.94" x2="636.50" y2="423.94" stroke="#000" stroke-width="2.0" stroke-linecap="butt"/>
<line x1="94.50" y1="596.20" x2="100.50" y2="596.20" stroke="#000" stroke-width="2.0" stroke-linecap="butt"/>
<line x1="647.50" y1="596.20" x2="641.50" y2="596.20" stroke="#000" stroke-width="2.0" stroke-linecap="butt"/>
<line x1="94.50" y1="586.76" x2="100.50" y2="586.76" stroke="#000" stroke-width="2.0" stroke-linecap="butt"/>
<line x1="647.50" y1="586.76" x2="641.50" y2="586.76" stroke="#000" stroke-width="2.0" stroke-linecap="butt"/>
<line x1="94.50" y1="578.59" x2="100.50" y2="578.59" stroke="#000" stroke-width="2.0" stroke-linecap="butt"/>
<line x1="647.50" y1="578.59" x2="641.50" y2="578.59" stroke="#000" stroke-width="2.0" stroke-linecap="butt"/>
<line x1="94.50" y1="571.37" x2="100.50" y2="571.37" stroke="#000" stroke-width="2.0" stroke-linecap="butt"/>
<line x1="647.50" y1="571.37" x2="641.50" y2="571.37" stroke="#000" stroke-width="2.0" stroke-linecap="butt"/>
<line x1="94.50" y1="522.48" x2="100.50" y2="522.48" stroke="#000" stroke-width="2.0" stroke-linecap="butt"/>
<line x1="647.50" y1="522.48" x2="641.50" y2="522.48" stroke="#000" stroke-width="2.0" stroke-linecap="butt"/>
<line x1="94.50" y1="497.66" x2="100.50" y2="497.66" stroke="#000" stroke-width="2.0" stroke-linecap="butt"/>
<line x1="647.50" y1="497.66" x2="641.50" y2="497.66" stroke="#000" stroke-width="2.0" stroke-linecap="butt"/>
<line x1="94.50" y1="480.04" x2="100.50" y2="480.04" stroke="#000" stroke-width="2.0" stroke-linecap="butt"/>
<line x1="647.50" y1="480.04" x2="641.50" y2="480.04" stroke="#000" stroke-width="2.0" stroke-linecap="butt"/>
<line x1="94.50" y1="466.38" x2="100.50" y2="466.38" stroke="#000" stroke-width="2.0" stroke-linecap="butt"/>
<line x1="647.50" y1="466.38" x2="641.50" y2="466.38" stroke="#000" stroke-width="2.0" stroke-linecap="butt"/>
<line x1="94.50" y1="455.22" x2="100.50" y2="455.22" stroke="#000" stroke-width="2.0" stroke-linecap="butt"/>
<line x1="647.50" y1="455.22" x2="641.50" y2="455.22" stroke="#000" stroke-width="2.0" stroke-linecap="butt"/>
<line x1="94.50" y1="445.78" x2="100.50" y2="445.78" stroke="#000" stroke-width="2.0" stroke-linecap="butt"/>
<line x1="647.50" y1="445.78" x2="641.50" y2="445.78" stroke="#000" stroke-width="2.0" stroke-linecap="butt"/>
<line x1="94.50" y1="437.61" x2="100.50" y2="437.61" stroke="#000" stroke-width="2.0" stroke-linecap="butt"/>
<line x1="647.50" y1="437.61" x2="641.50" y2="437.61" stroke="#000" stroke-width="2.0" stroke-linecap="butt"/>
<line x1="94.50" y1="430.39" x2="100.50" y2="430.39" stroke="#000" stroke-width="2.0" stroke-linecap="butt"/>
<line x1="647.50" y1="430.39" x2="641.50" y2="430.39" stroke="#000" stroke-width="2.0" stroke-linecap="butt"/>
<line x1="94.50" y1="381.50" x2="100.50" y2="381.50" stroke="#000" stroke-width="2.0" stroke-linecap="butt"/>
<line x1="647.50" y1="381.50" x2="641.50" y2="381.50" stroke="#000" stroke-width="2.0" stroke-linecap="butt"/>
<line x1="94.50" y1="356.68" x2="100.50" y2="356.68" stroke="#000" stroke-width="2.0" stroke-linecap="butt"/>
<line x1="647.50" y1="356.68" x2="641.50" y2="356.68" stroke="#000" stroke-width="2.0" stroke-linecap="butt"/>
<line x1="94.50" y1="339.06" x2="100.50" y2="339.06" stroke="#000" stroke-width="2.0" stroke-linecap="butt"/>
<line x1="647.50" y1="339.06" x2="641.50" y2="339.06" stroke="#000" stroke-width="2.0" stroke-linecap="butt"/>
<line x1="94.50" y1="325.40" x2="100.50" y2="325.40" stroke="#000" stroke-width="2.0" stroke-linecap="butt"/>
<line x1="647.50" y1="325.40" x2="641.50" y2="325.40" stroke="#000" stroke-width="2.0" stroke-linecap="butt"/>
<line x1="94.50" y1="314.24" x2="100.50" y2="314.24" stroke="#000" stroke-width="2.0" stroke-linecap="butt"/>
<line x1="647.50" y1="314.24" x2="641.50" y2="314.24" stroke="#000" stroke-width="2.0" stroke-linecap="butt"/>
<line x1="94.50" y1="304.80" x2="100.50" y2="304.80" stroke="#000" stroke-width="2.0" stroke-linecap="butt"/>
<line x1="647.50" y1="304.80" x2="641.50" y2="304.80" stroke="#000" stroke-width="2.0" stroke-linecap="butt"/>
<line x1="94.50" y1="888.00" x2="105.50" y2="888.00" stroke="#000" stroke-width="2.0" stroke-linecap="butt"/>
<line x1="647.50" y1="888.00" x2="636.50" y2="888.00" stroke="#000" stroke-width="2.0" stroke-linecap="butt"/>
<line x1="94.50" y1="790.73" x2="105.50" y2="790.73" stroke="#000" stroke-width="2.0" stroke-linecap="butt"/>
<line x1="647.50" y1="790.73" x2="636.50" y2="790.73" stroke="#000" stroke-width="2.0" stroke-linecap="butt"/>
<line x1="94.50" y1="693.47" x2="105.50" y2="693.47" stroke="#000" stroke-width="2.0" stroke-linecap="butt"/>
<line x1="647.50" y1="693.47" x2="636.50" y2="693.47" stroke="#000" stroke-width="2.0" stroke-linecap="butt"/>
<line x1="94.50" y1="596.20" x2="105.50" y2="596.20" stroke="#000" stroke-width="2.0" stroke-linecap="butt"/>
<line x1="647.50" y1="596.20" x2="636.50" y2="596.20" stroke="#000" stroke-width="2.0" stroke-linecap="butt"/>
<line x1="94.50" y1="863.68" x2="100.50" y2="863.68" stroke="#000" stroke-width="2.0" stroke-linecap="butt"/>
<line x1="647.50" y1="863.68" x2="641.50" y2="863.68" stroke="#000" stroke-width="2.0" stroke-linecap="butt"/>
<line x1="94.50" y1="839.37" x2="100.50" y2="839.37" stroke="#000" stroke-width="2.0" stroke-linecap="butt"/>
<line x1="647.50" y1="839.37" x2="641.50" y2="839.37" stroke="#000" stroke-width="2.0" stroke-linecap="butt"/>
<line x1="94.50" y1="815.05" x2="100.50" y2="815.05" stroke="#000" stroke-width="2.0" stroke-linecap="butt"/>
<line x1="647.50" y1="815.05" x2="641.50" y2="815.05" stroke="#000" stroke-width="2.0" stroke-linecap="butt"/>
<line x1="94.50" y1="766.42" x2="100.50" y2="766.42" stroke="#000" stroke-width="2.0" stroke-linecap="butt"/>
<line x1="647.50" y1="766.42" x2="641.50" y2="766.42" stroke="#000" stroke-width="2.0" stroke-linecap="butt"/>
<line x1="94.50" y1="742.10" x2="100.50" y2="742.10" stroke="#000" stroke-width="2.0" stroke-linecap="butt"/>
<line x1="647.50" y1="742.10" x2="641.50" y2="742.10" stroke="#000" stroke-width="2.0" stroke-linecap="butt"/>
<line x1="94.50" y1="717.78" x2="100.50" y2="717.78" stroke="#000" stroke-width="2.0" stroke-linecap="butt"/>
<line x1="647.50" y1="717.78" x2="641.50" y2="717.78" stroke="#000" stroke-width="2.0" stroke-linecap="butt"/>
<line x1="94.50" y1="669.15" x2="100.50" y2="669.15" stroke="#000" stroke-width="2.0" stroke-linecap="butt"/>
<line x1="647.50" y1="669.15" x2="641.50" y2="669.15" stroke="#000" stroke-width="2.0" stroke-linecap="butt"/>
<line x1="94.50" y1="644.83" x2="100.50" y2="644.83" stroke="#000" stroke-width="2.0" stroke-linecap="butt"/>
<line x1="647.50" y1="644.83" x2="641.50" y2="644.83" stroke="#000" stroke-width="2.0" stroke-linecap="butt"/>
<line x1="94.50" y1="620.52" x2="100.50" y2="620.52" stroke="#000" stroke-width="2.0" stroke-linecap="butt"/>
<line x1="647.50" y1="620.52" x2="641.50" y2="620.52" stroke="#000" stroke-width="2.0" stroke-linecap="butt"/>
<line x1="431.53" y1="434.80" x2="431.53" y2="429.30" stroke="#000" stroke-width="1.8" stroke-linecap="butt"/>
<line x1="448.16" y1="434.80" x2="448.16" y2="429.30" stroke="#000" stroke-width="1.8" stroke-linecap="butt"/>
<line x1="464.79" y1="434.80" x2="464.79" y2="429.30" stroke="#000" stroke-width="1.8" stroke-linecap="butt"/>
<line x1="481.42" y1="434.80" x2="481.42" y2="429.30" stroke="#000" stroke-width="1.8" stroke-linecap="butt"/>
<line x1="498.05" y1="434.80" x2="498.05" y2="426.80" stroke="#000" stroke-width="1.8" stroke-linecap="butt"/>
<line x1="514.68" y1="434.80" x2="514.68" y2="429.30" stroke="#000" stroke-width="1.8" stroke-linecap="butt"/>
<line x1="531.31" y1="434.80" x2="531.31" y2="429.30" stroke="#000" stroke-width="1.8" stroke-linecap="butt"/>
<line x1="547.94" y1="434.80" x2="547.94" y2="429.30" stroke="#000" stroke-width="1.8" stroke-linecap="butt"/>
<line x1="564.57" y1="434.80" x2="564.57" y2="429.30" stroke="#000" stroke-width="1.8" stroke-linecap="butt"/>
<line x1="581.20" y1="434.80" x2="581.20" y2="426.80" stroke="#000" stroke-width="1.8" stroke-linecap="butt"/>
<line x1="597.83" y1="434.80" x2="597.83" y2="429.30" stroke="#000" stroke-width="1.8" stroke-linecap="butt"/>
<line x1="614.46" y1="434.80" x2="614.46" y2="429.30" stroke="#000" stroke-width="1.8" stroke-linecap="butt"/>
<line x1="631.09" y1="434.80" x2="631.09" y2="429.30" stroke="#000" stroke-width="1.8" stroke-linecap="butt"/>
<line x1="414.60" y1="423.97" x2="420.60" y2="423.97" stroke="#000" stroke-width="1.8" stroke-linecap="butt"/>
<line x1="414.60" y1="413.13" x2="420.60" y2="413.13" stroke="#000" stroke-width="1.8" stroke-linecap="butt"/>
<line x1="414.60" y1="402.30" x2="420.60" y2="402.30" stroke="#000" stroke-width="1.8" stroke-linecap="butt"/>
<line x1="414.60" y1="391.47" x2="420.60" y2="391.47" stroke="#000" stroke-width="1.8" stroke-linecap="butt"/>
<line x1="414.60" y1="380.63" x2="420.60" y2="380.63" stroke="#000" stroke-width="1.8" stroke-linecap="butt"/>
<line x1="414.60" y1="369.80" x2="420.60" y2="369.80" stroke="#000" stroke-width="1.8" stroke-linecap="butt"/>
<line x1="414.60" y1="358.97" x2="420.60" y2="358.97" stroke="#000" stroke-width="1.8" stroke-linecap="butt"/>
<line x1="414.60" y1="348.13" x2="420.60" y2="348.13" stroke="#000" stroke-width="1.8" stroke-linecap="butt"/>
<line x1="414.60" y1="337.30" x2="420.60" y2="337.30" stroke="#000" stroke-width="1.8" stroke-linecap="butt"/>
<line x1="414.60" y1="326.47" x2="420.60" y2="326.47" stroke="#000" stroke-width="1.8" stroke-linecap="butt"/>
<line x1="414.60" y1="315.63" x2="420.60" y2="315.63" stroke="#000" stroke-width="1.8" stroke-linecap="butt"/>
<line x1="414.60" y1="304.80" x2="414.60" y2="434.80" stroke="#000" stroke-width="2.2" stroke-linecap="butt"/>
<line x1="413.60" y1="434.80" x2="647.50" y2="434.80" stroke="#000" stroke-width="2.2" stroke-linecap="butt"/>
<rect x="94.50" y="13.00" width="553.00" height="875.00" fill="none" stroke="#000" stroke-width="2.5"/>
<line x1="94.50" y1="304.80" x2="647.50" y2="304.80" stroke="#000" stroke-width="2.5" stroke-linecap="butt"/>
<line x1="94.50" y1="596.20" x2="647.50" y2="596.20" stroke="#000" stroke-width="2.5" stroke-linecap="butt"/>
<text x="83.3" y="18.9" font-size="25.5" text-anchor="end">60</text>
<text x="83.3" y="117.4" font-size="25.5" text-anchor="end">40</text>
<text x="83.3" y="215.2" font-size="25.5" text-anchor="end">20</text>
<text x="83.3" y="312.4" font-size="25.5" text-anchor="end">0</text>
<text x="83.3" y="430.5" font-size="25.5" text-anchor="end">10</text>
<text x="83.3" y="571.6" font-size="25.5" text-anchor="end">1</text>
<text x="83.3" y="700.7" font-size="25.5" text-anchor="end">4</text>
<text x="83.3" y="798.2" font-size="25.5" text-anchor="end">2</text>
<text x="83.3" y="895.2" font-size="25.5" text-anchor="end">0</text>
<text x="94.2" y="918.2" font-size="25.5" text-anchor="middle">0</text>
<text x="173.2" y="918.2" font-size="25.5" text-anchor="middle">200</text>
<text x="252.2" y="918.2" font-size="25.5" text-anchor="middle">400</text>
<text x="331.2" y="918.2" font-size="25.5" text-anchor="middle">600</text>
<text x="410.2" y="918.2" font-size="25.5" text-anchor="middle">800</text>
<text x="489.2" y="918.2" font-size="25.5" text-anchor="middle">1000</text>
<text x="568.2" y="918.2" font-size="25.5" text-anchor="middle">1200</text>
<text x="647.2" y="918.2" font-size="25.5" text-anchor="middle">1400</text>
<text x="373.61" y="364.40" font-size="20.50" textLength="30.14" lengthAdjust="spacingAndGlyphs">2.0</text>
<text x="374.39" y="418.00" font-size="20.50" textLength="29.40" lengthAdjust="spacingAndGlyphs">1.5</text>
<text x="408.19" y="462.70" font-size="20.50" textLength="12.91" lengthAdjust="spacingAndGlyphs">0</text>
<text x="479.95" y="462.70" font-size="20.50" textLength="35.59" lengthAdjust="spacingAndGlyphs">500</text>
<text x="558.11" y="462.70" font-size="20.50" textLength="46.40" lengthAdjust="spacingAndGlyphs">1000</text>
<text x="132.85" y="60.40" font-size="31.50" textLength="68.92" lengthAdjust="spacingAndGlyphs">MgB</text>
<text x="200.23" y="73.70" font-size="18.50" textLength="11.84" lengthAdjust="spacingAndGlyphs">2</text>
<text x="179.27" y="181.90" font-size="23.00" font-family='"Liberation Serif",serif' textLength="11.66" lengthAdjust="spacingAndGlyphs">λ</text>
<text x="196.90" y="181.90" font-size="23.00" textLength="14.30" lengthAdjust="spacingAndGlyphs">=</text>
<text x="217.70" y="181.90" font-size="22.50" textLength="57.76" lengthAdjust="spacingAndGlyphs">0.422</text>
<line x1="404.00" y1="185.00" x2="454.00" y2="185.00" stroke="#0505d4" stroke-width="3.4" stroke-linecap="butt"/>
<line x1="404.00" y1="210.70" x2="454.00" y2="210.70" stroke="#e67a2a" stroke-width="2.4" stroke-linecap="butt" stroke-dasharray="11.3,7.7"/>
<text x="457.93" y="192.00" font-size="20.50" textLength="31.12" lengthAdjust="spacingAndGlyphs">T =</text>
<text x="501.19" y="192.00" font-size="20.50" textLength="77.71" lengthAdjust="spacingAndGlyphs">8 K data</text>
<text x="457.93" y="216.40" font-size="20.50" textLength="31.12" lengthAdjust="spacingAndGlyphs">T =</text>
<text x="501.20" y="216.40" font-size="20.50" textLength="129.74" lengthAdjust="spacingAndGlyphs">8 K simulation</text>
<text x="426.87" y="254.50" font-size="20.00" textLength="15.63" lengthAdjust="spacingAndGlyphs">1/</text>
<text x="442.70" y="254.50" font-size="20.00" textLength="8.27" lengthAdjust="spacingAndGlyphs">τ</text>
<text x="451.12" y="261.00" font-size="13.00" textLength="21.13" lengthAdjust="spacingAndGlyphs">imp</text>
<text x="478.18" y="254.50" font-size="20.00" textLength="95.91" lengthAdjust="spacingAndGlyphs">= 6.0 meV</text>
<text x="592.07" y="267.30" font-size="30.50" textLength="37.95" lengthAdjust="spacingAndGlyphs">(a)</text>
<text x="591.07" y="580.30" font-size="30.50" textLength="38.06" lengthAdjust="spacingAndGlyphs">(b)</text>
<text x="594.48" y="867.30" font-size="30.50" textLength="36.03" lengthAdjust="spacingAndGlyphs">(c)</text>
<line x1="386.00" y1="727.80" x2="435.50" y2="727.80" stroke="#0505d4" stroke-width="3.4" stroke-linecap="butt"/>
<line x1="386.00" y1="753.80" x2="435.50" y2="753.80" stroke="#16e616" stroke-width="3.4" stroke-linecap="butt"/>
<line x1="386.00" y1="779.60" x2="435.50" y2="779.60" stroke="#e67a2a" stroke-width="2.4" stroke-linecap="butt" stroke-dasharray="11.3,7.7"/>
<line x1="386.00" y1="805.80" x2="435.50" y2="805.80" stroke="#0c700c" stroke-width="2.6" stroke-linecap="butt" stroke-dasharray="4,3.5,12.5,3.5"/>
<text x="440.82" y="735.10" font-size="20.50" textLength="31.75" lengthAdjust="spacingAndGlyphs">T =</text>
<text x="489.81" y="735.10" font-size="20.50" textLength="76.49" lengthAdjust="spacingAndGlyphs">8 K data</text>
<text x="440.83" y="760.90" font-size="20.50" textLength="125.47" lengthAdjust="spacingAndGlyphs">T = 50 K data</text>
<text x="440.82" y="786.70" font-size="20.50" textLength="31.75" lengthAdjust="spacingAndGlyphs">T =</text>
<text x="489.80" y="786.70" font-size="20.50" textLength="130.55" lengthAdjust="spacingAndGlyphs">8 K simulation</text>
<text x="440.83" y="812.20" font-size="20.50" textLength="179.53" lengthAdjust="spacingAndGlyphs">T = 50 K simulation</text>
<text transform="translate(30.00,249.78) rotate(-90)" font-size="30.00" textLength="24.98" lengthAdjust="spacingAndGlyphs">1/</text>
<text transform="translate(30.00,224.02) rotate(-90)" font-size="30.00" textLength="9.01" lengthAdjust="spacingAndGlyphs">τ</text>
<text transform="translate(12.40,212.48) rotate(-90)" font-size="16.50" textLength="20.55" lengthAdjust="spacingAndGlyphs">op</text>
<text transform="translate(30.00,192.29) rotate(-90)" font-size="30.00" textLength="8.54" lengthAdjust="spacingAndGlyphs">(</text>
<text transform="translate(30.00,182.92) rotate(-90)" font-size="30.00" font-family='"Liberation Serif",serif' textLength="20.54" lengthAdjust="spacingAndGlyphs">ω</text>
<text transform="translate(30.00,162.68) rotate(-90)" font-size="30.00" textLength="10.05" lengthAdjust="spacingAndGlyphs">)</text>
<text transform="translate(30.00,147.00) rotate(-90)" font-size="30.00" textLength="87.59" lengthAdjust="spacingAndGlyphs">(meV)</text>
<text transform="translate(32.80,574.95) rotate(-90)" font-size="30.00" font-family='"Liberation Serif",serif' textLength="20.53" lengthAdjust="spacingAndGlyphs">σ</text>
<text transform="translate(43.70,556.88) rotate(-90)" font-size="19.00" textLength="5.68" lengthAdjust="spacingAndGlyphs">1</text>
<text transform="translate(32.80,548.01) rotate(-90)" font-size="30.00" textLength="8.67" lengthAdjust="spacingAndGlyphs">(</text>
<text transform="translate(32.80,538.26) rotate(-90)" font-size="30.00" font-family='"Liberation Serif",serif' textLength="19.63" lengthAdjust="spacingAndGlyphs">ω</text>
<text transform="translate(32.80,516.84) rotate(-90)" font-size="30.00" textLength="7.79" lengthAdjust="spacingAndGlyphs">)</text>
<text transform="translate(32.80,498.58) rotate(-90)" font-size="30.00" textLength="43.76" lengthAdjust="spacingAndGlyphs">(10</text>
<text transform="translate(15.70,454.94) rotate(-90)" font-size="19.00" textLength="9.38" lengthAdjust="spacingAndGlyphs">3</text>
<text transform="translate(32.80,436.41) rotate(-90)" font-size="30.00" textLength="23.03" lengthAdjust="spacingAndGlyphs">Ω</text>
<text transform="translate(15.50,414.16) rotate(-90)" font-size="18.00" textLength="13.18" lengthAdjust="spacingAndGlyphs">-1</text>
<text transform="translate(32.80,398.15) rotate(-90)" font-size="30.00" textLength="42.45" lengthAdjust="spacingAndGlyphs">cm</text>
<text transform="translate(15.50,357.26) rotate(-90)" font-size="18.00" textLength="13.18" lengthAdjust="spacingAndGlyphs">-1</text>
<text transform="translate(32.80,340.67) rotate(-90)" font-size="30.00" textLength="9.42" lengthAdjust="spacingAndGlyphs">)</text>
<text transform="translate(37.00,864.26) rotate(-90)" font-size="30.00" textLength="10.91" lengthAdjust="spacingAndGlyphs">-</text>
<text transform="translate(37.00,853.14) rotate(-90)" font-size="30.00" font-family='"Liberation Serif",serif' textLength="17.59" lengthAdjust="spacingAndGlyphs">ω</text>
<text transform="translate(20.10,835.48) rotate(-90)" font-size="18.00" textLength="9.77" lengthAdjust="spacingAndGlyphs">2</text>
<text transform="translate(37.00,828.42) rotate(-90)" font-size="30.00" textLength="15.90" lengthAdjust="spacingAndGlyphs">ε</text>
<text transform="translate(47.70,813.21) rotate(-90)" font-size="17.00" textLength="10.32" lengthAdjust="spacingAndGlyphs">1</text>
<text transform="translate(37.00,802.83) rotate(-90)" font-size="30.00" textLength="9.29" lengthAdjust="spacingAndGlyphs">(</text>
<text transform="translate(37.00,792.83) rotate(-90)" font-size="30.00" font-family='"Liberation Serif",serif' textLength="19.06" lengthAdjust="spacingAndGlyphs">ω</text>
<text transform="translate(37.00,772.36) rotate(-90)" font-size="30.00" textLength="9.29" lengthAdjust="spacingAndGlyphs">)</text>
<text transform="translate(37.00,752.54) rotate(-90)" font-size="30.00" textLength="42.79" lengthAdjust="spacingAndGlyphs">(10</text>
<text transform="translate(19.30,711.03) rotate(-90)" font-size="18.00" textLength="10.67" lengthAdjust="spacingAndGlyphs">8</text>
<text transform="translate(37.00,694.14) rotate(-90)" font-size="30.00" textLength="42.13" lengthAdjust="spacingAndGlyphs">cm</text>
<text transform="translate(19.30,653.73) rotate(-90)" font-size="18.00" textLength="16.68" lengthAdjust="spacingAndGlyphs">-2</text>
<text transform="translate(37.00,636.97) rotate(-90)" font-size="30.00" textLength="9.80" lengthAdjust="spacingAndGlyphs">)</text>
<text x="314.20" y="960.20" font-size="24.00" font-family='"Liberation Serif",serif' textLength="18.61" lengthAdjust="spacingAndGlyphs">ω</text>
<text x="339.72" y="961.00" font-size="27.00" textLength="9.04" lengthAdjust="spacingAndGlyphs">(</text>
<text x="349.59" y="960.60" font-size="25.00" textLength="41.04" lengthAdjust="spacingAndGlyphs">cm</text>
<text x="390.50" y="948.70" font-size="18.00" textLength="13.96" lengthAdjust="spacingAndGlyphs">-1</text>
<text x="407.02" y="961.00" font-size="27.00" textLength="10.05" lengthAdjust="spacingAndGlyphs">)</text>
</svg></body></html>
